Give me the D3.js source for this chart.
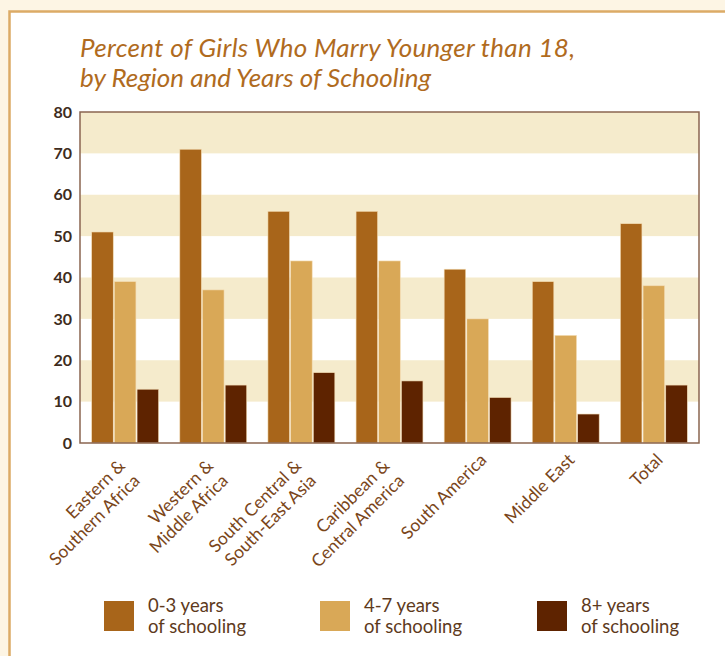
<!DOCTYPE html>
<html>
  <head>
    <title>Percent of Girls Who Marry Younger than 18</title>
    <script type="text/javascript" src="https://cdnjs.cloudflare.com/ajax/libs/d3/7.8.5/d3.min.js"></script>
    <style>
      body { margin: 0; background: #fff; }
      svg { display: block; font-family: Lato, "Open Sans", sans-serif; }
    </style>
  </head>
  <body>
  <script>

    var regions = ['Eastern & Southern Africa', 'Western & Middle Africa', 'South Central & South-East Asia',
                   'Caribbean & Central America', 'South America', 'Middle East', 'Total'];
    var regionLines = [['Eastern &', 'Southern Africa'], ['Western &', 'Middle Africa'],
                       ['South Central &', 'South-East Asia'], ['Caribbean &', 'Central America'],
                       ['South America'], ['Middle East'], ['Total']];
    var series = ['0-3 years', '4-7 years', '8+ years'];
    var yrs0to3 = [51, 71, 56, 56, 42, 39, 53];
    var yrs4to7 = [39, 37, 44, 44, 30, 26, 38];
    var yrs8plus = [13, 14, 17, 15, 11, 7, 14];
    var yTicks = [0, 10, 20, 30, 40, 50, 60, 70, 80];
    var stripes = [10, 30, 50, 70];

    var colors = ['#a8651a', '#d9a857', '#5e2300'];
    var values = [yrs0to3, yrs4to7, yrs8plus];

    var W = 725, H = 656;
    var plotLeft = 80, plotRight = 699, plotTop = 112, plotBottom = 443;

    var svg = d3.select('body')
              .append('svg')
              .attr('width', W)
              .attr('height', H);

    // page frame: cream strip top and left, tan rule
    svg.append('rect').attr('x', 0).attr('y', 0).attr('width', W).attr('height', H).attr('fill', '#fdf5e4');
    svg.append('rect').attr('x', 10).attr('y', 12).attr('width', W).attr('height', H).attr('fill', '#fff');
    svg.append('path').attr('d', 'M9.5,' + H + 'V11.5H' + W)
      .attr('fill', 'none').attr('stroke', '#dcab66').attr('stroke-width', 2.5);

    // title
    var title = svg.append('text')
      .attr('x', 80).attr('y', 57)
      .attr('fill', '#b06b1e')
      .attr('font-style', 'italic')
      .attr('font-size', 26);
    title.append('tspan').attr('x', 80)
      .attr('textLength', 495).attr('lengthAdjust', 'spacing')
      .text('Percent of Girls Who Marry Younger than 18,');
    title.append('tspan').attr('x', 80).attr('dy', 30)
      .attr('textLength', 351).attr('lengthAdjust', 'spacing')
      .text('by Region and Years of Schooling');

    var y = d3.scaleLinear()
      .domain([0, 80])
      .range([plotBottom, plotTop]);

    var x = d3.scaleBand()
      .domain(regions)
      .range([plotLeft, plotRight])
      .paddingInner(0.215)
      .paddingOuter(0.12);

    var xs = d3.scaleBand()
      .domain(series)
      .range([0, x.bandwidth()])
      .padding(0.05);

    // background stripes
    svg.selectAll('rect.stripe')
      .data(stripes)
      .enter().append('rect')
      .attr('class', 'stripe')
      .attr('x', plotLeft)
      .attr('width', plotRight - plotLeft)
      .attr('y', function(d) { return y(d + 10); })
      .attr('height', function(d) { return y(d) - y(d + 10); })
      .attr('fill', '#f5ebcc');

    // bars
    var groups = svg.selectAll('g.group')
      .data(regions)
      .enter().append('g')
      .attr('class', 'group')
      .attr('transform', function(d) { return 'translate(' + x(d) + ',0)'; });

    groups.selectAll('rect')
      .data(function(d, i) {
        return series.map(function(s, j) { return { s: s, v: values[j][i], c: colors[j] }; });
      })
      .enter().append('rect')
      .attr('x', function(d) { return xs(d.s); })
      .attr('width', xs.bandwidth())
      .attr('y', function(d) { return y(d.v); })
      .attr('height', function(d) { return plotBottom - y(d.v); })
      .attr('fill', function(d) { return d.c; })
      .attr('stroke', '#f3dcb4')
      .attr('stroke-width', 0.6);

    // plot frame
    svg.append('path')
      .attr('d', 'M' + plotLeft + ',' + plotBottom + 'V' + plotTop + 'H' + plotRight + 'V' + plotBottom + 'Z')
      .attr('fill', 'none')
      .attr('stroke', '#8a6550')
      .attr('stroke-width', 1.5);

    // y axis labels
    var yAxis = d3.axisLeft(y).tickValues(yTicks).tickSize(0).tickPadding(8);
    var gy = svg.append('g').attr('transform', 'translate(' + plotLeft + ',0)').call(yAxis);
    gy.select('.domain').remove();
    gy.selectAll('text')
      .attr('font-family', 'Lato, sans-serif')
      .attr('font-size', 16)
      .attr('font-weight', 'bold')
      .attr('fill', '#3e2c20');

    // x labels, rotated
    var xl = svg.selectAll('text.xlab')
      .data(regions)
      .enter().append('text')
      .attr('class', 'xlab')
      .attr('text-anchor', 'end')
      .attr('font-size', 17.5)
      .attr('fill', '#7a461a')
      .attr('transform', function(d, i) {
        var cx = x(d) + x.bandwidth() / 2;
        var two = regionLines[i].length > 1;
        return 'translate(' + (cx + (two ? 1 : 10)) + ',' + (two ? 467 : 461) + ') rotate(-45)';
      });
    xl.selectAll('tspan')
      .data(function(d, i) { return regionLines[i]; })
      .enter().append('tspan')
      .attr('x', 0)
      .attr('dy', function(d, i) { return i === 0 ? 0 : 21; })
      .text(function(d) { return d; });

    // legend
    var legendX = d3.scaleOrdinal().domain(series).range([104, 320, 537]);
    var lg = svg.selectAll('g.legend')
      .data(series)
      .enter().append('g')
      .attr('class', 'legend')
      .attr('transform', function(d) { return 'translate(' + legendX(d) + ',601)'; });
    lg.append('rect')
      .attr('width', 30).attr('height', 30)
      .attr('fill', function(d, i) { return colors[i]; });
    var lt = lg.append('text')
      .attr('x', 44)
      .attr('y', 11)
      .attr('font-size', 18.5)
      .attr('fill', '#5e3a1c');
    lt.append('tspan').attr('x', 44).text(function(d) { return d; });
    lt.append('tspan').attr('x', 44).attr('dy', 21).text('of schooling');

  </script>
 </body>
</html>
